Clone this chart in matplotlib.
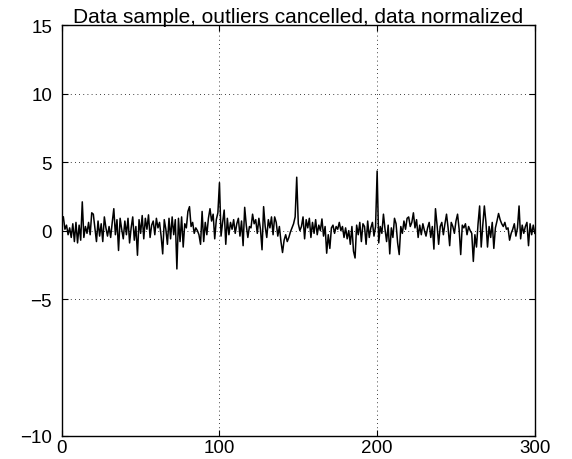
import numpy as np
import matplotlib
matplotlib.use("Agg")
import matplotlib.pyplot as plt

# normalized sample values, one per index 1..300
seg_a = [1.0, 0.1, 0.4, -0.3, 0.2, -0.5, 0.5, -0.8, 0.6, -0.9, 0.4, -0.7, 2.1, -0.5, 0.3, -0.2, 0.6, -0.3, 1.3, 1.2,
         0.2, -0.8, 0.7, -0.4, 0.5, -0.8, 1.0, 0.2, -0.4, 0.3, -0.5, 0.6, 1.6, -0.3, 0.8, -1.45, 0.9, 0.1, -0.6, 0.7,
         -0.3, 0.9, -0.9, 0.2, 1.0, -0.7, 0.3, -1.8, 0.8, -0.2, 1.1, -0.6, 0.9, 0.1, 1.15, -0.5, 0.4, 0.7, -0.3, 0.9,
         0.2, 0.6, -0.4, -1.7, 0.8, 0.1, -1.0, 0.9, -0.6, 1.0, -0.3, 0.8, -2.8, 0.9, -0.8, 1.0, -1.2, 0.5, 0.2, 1.4,
         1.75, 0.3, 0.6, -0.2, 0.2, 0.0, -0.3, -1.0, 1.4, -0.8, 0.6, -0.3, 0.9, 1.6, 0.7, 1.2, -0.6, 0.8, 1.3, 3.5]
seg_b = [-0.4, 0.6, 1.5, -1.0, 0.9, -0.3, 0.6, 0.1, 0.8, -0.2, 0.5, 0.9, -0.4, 0.7, -1.1, 1.7, 0.4, -0.5, 0.3, 0.2,
         1.2, 0.5, 0.8, -0.2, 0.9, 0.1, -1.4, 1.75, 0.3, -0.5, 0.8, 0.2, 1.0, -0.3, 1.0, 0.6, -0.4, 0.3, -0.8, -1.6,
         -0.7, -0.3, -0.8, -0.5, -0.1, 0.2, 0.5, 1.0, 3.9, 0.5, 0.0, 0.3, 1.0, -0.6, 0.8, 0.2, 0.9, -0.5, 0.6, -0.2,
         0.8, -0.3, 0.4, 0.0, 0.85, -0.4, 0.3, -1.65, -0.3, -1.3, 0.2, 0.4, -0.2, 0.3, 0.1, 0.6, 0.0, 0.3, -0.5, 0.2,
         -0.6, 0.0, -1.0, 0.3, -1.5, -2.0, 0.4, -0.3, 0.6, -0.8, 0.5, 0.3, -1.0, 0.7, -0.5, 0.2, 0.6, -0.4, 0.3, 4.35]
seg_c = [-0.9, 0.3, -0.2, 1.2, 0.1, -0.8, 0.4, -1.7, 0.2, -0.5, 0.9, 0.5, -0.9, -1.75, 0.3, -0.2, 0.7, 0.1, 0.9, 1.0,
         0.3, 0.6, 1.3, 0.2, 0.8, -0.5, 0.4, -0.3, 0.5, 0.0, -0.4, 0.2, 0.6, -0.5, 0.3, -1.35, 1.6, 0.4, -1.0, 0.3,
         0.6, -0.3, 0.5, 1.2, 0.2, -1.1, 0.6, 0.3, -0.2, 0.7, 1.2, 0.1, -1.75, 0.4, 0.2, 0.5, -0.3, 0.3, 0.0, -0.2,
         -2.25, -0.3, -1.2, 0.5, 1.8, -1.2, 0.4, 1.8, 0.6, -1.2, 0.3, -0.5, 0.6, -1.3, 0.2, 0.7, 1.25, 0.8, 0.5, 0.3,
         0.6, 0.1, 0.2, -0.7, -0.2, 0.1, 0.5, -0.4, 0.2, 1.8, -0.6, 0.4, -0.2, 0.3, 0.6, -1.1, 0.5, -0.3, 0.4, -0.2]

values = np.array(seg_a + seg_b + seg_c)
index = np.arange(1, len(values) + 1)

x_ticks = [0, 100, 200, 300]
y_ticks = [-15, -5, 0, 5, 10, 15]
y_labels = ['\u221210', '\u22125', '0', '5', '10', '15']

plt.rcParams['font.family'] = ['Liberation Sans', 'DejaVu Sans']

fig = plt.figure(figsize=(5.72, 4.60), dpi=100)
ax = fig.add_axes([0.108, 0.05, 0.827, 0.893])
ax.plot(index, values, color='black', linewidth=1.1)

ax.set_xlim(0, 300)
ax.set_ylim(-15, 15)
ax.set_xticks(x_ticks)
ax.set_yticks(y_ticks)
ax.set_yticklabels(y_labels)
ax.tick_params(direction='in', length=4, width=0.8, labelsize=13.5,
               top=True, right=True)
ax.tick_params(axis='y', pad=7)
ax.tick_params(axis='x', pad=2)
ax.grid(True, color='black', linestyle=(0, (1, 4)), linewidth=0.6)
for s in ax.spines.values():
    s.set_linewidth(1.0)

ax.set_title('Data sample, outliers cancelled, data normalized', fontsize=15, pad=2)

fig.savefig('out.png', dpi=100)
